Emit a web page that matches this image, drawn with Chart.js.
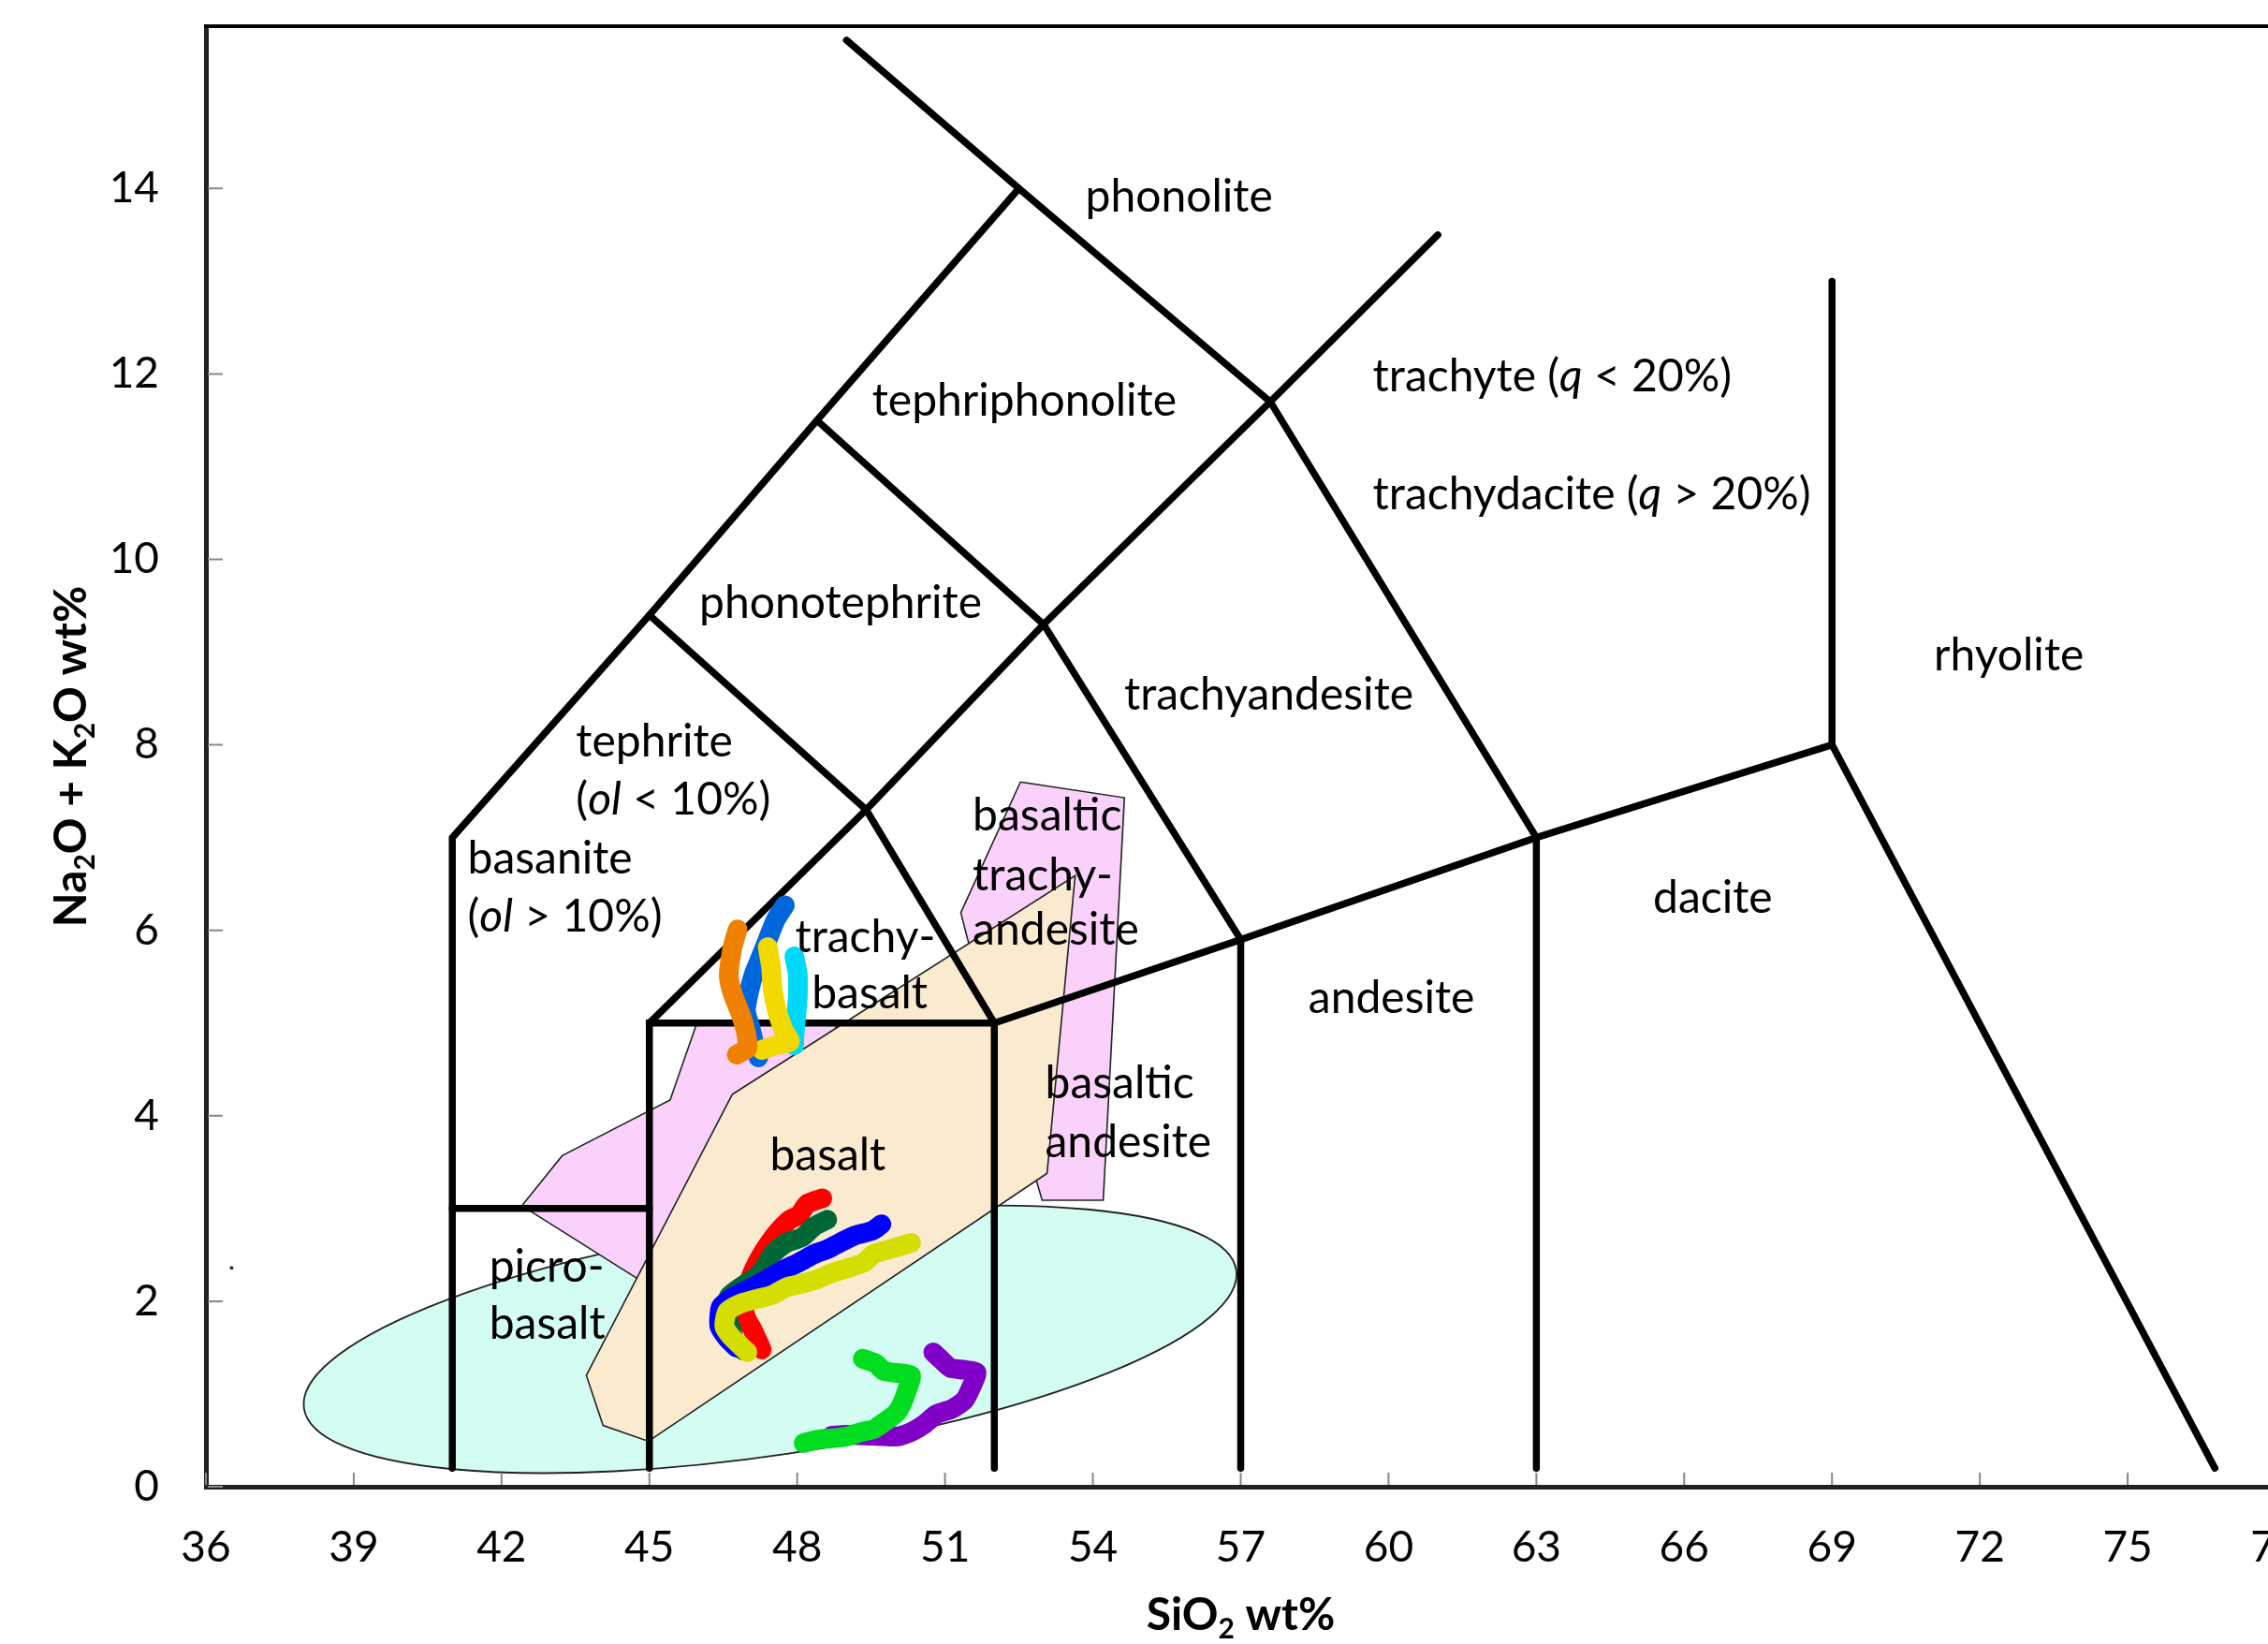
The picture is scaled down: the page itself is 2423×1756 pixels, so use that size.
<!DOCTYPE html>
<html>
<head>
<meta charset="utf-8">
<script src="https://cdn.jsdelivr.net/npm/chart.js@4.4.1/dist/chart.umd.min.js"></script>
<style>
  html, body { margin: 0; padding: 0; background: #fff; overflow: hidden; }
  #wrap { width: 2480px; height: 1756px; }
</style>
</head>
<body>
<div id="wrap"><canvas id="tas" width="2480" height="1756"></canvas></div>
<script>
const xTicks = [36, 39, 42, 45, 48, 51, 54, 57, 60, 63, 66, 69, 72, 75, 78];
const yTicks = [0, 2, 4, 6, 8, 10, 12, 14];

// TAS field boundaries [SiO2, Na2O+K2O]
const lineA = [[41, 0.2], [41, 7], [45, 9.4], [48.4, 11.5], [52.5, 14]];
const lineB = [[49, 15.6], [52.5, 14], [57.6, 11.7], [63, 7], [63, 0.2]];
const lineC = [[41, 3], [45, 3]];
const lineD = [[45, 0.2], [45, 5], [52, 5], [52, 0.2]];
const lineE = [[45, 5], [49.4, 7.3], [53, 9.3], [57.6, 11.7], [61, 13.5]];
const lineF = [[45, 9.4], [49.4, 7.3], [52, 5], [57, 5.9], [63, 7], [69, 8], [76.77, 0.2]];
const lineG = [[48.4, 11.5], [53, 9.3], [57, 5.9], [57, 0.2]];
const lineH = [[69, 8], [69, 13]];

// shaded fields
const pinkLeft = [[42.41, 3.03], [43.23, 3.57], [45.42, 4.17], [45.95, 4.98], [48.8, 4.98], [47.5, 3.0], [44.74, 2.25]];
const pinkRight = [[52.53, 7.60], [54.64, 7.43], [54.21, 3.09], [52.97, 3.09], [52.85, 3.31], [51.45, 5.92], [51.32, 6.19]];
const beigeField = [[46.68, 4.23], [53.64, 6.59], [53.07, 3.38], [44.98, 0.49], [44.06, 0.66], [43.72, 1.20]];
const ellipseCenter = [47.45, 1.59];
const ellipseAxisU = [9.46, 0.745];
const ellipseAxisV = [0.345, -1.236];

// sample traces
const orangeTrace = [[46.79, 6.01], [46.68, 5.80], [46.61, 5.50], [46.70, 5.30], [46.85, 5.10], [46.96, 4.90], [46.99, 4.73], [46.77, 4.66]];
const azureTrace = [[47.75, 6.27], [47.56, 6.11], [47.40, 5.90], [47.25, 5.70], [47.12, 5.53], [47.02, 5.33], [46.96, 5.13], [47.05, 4.95], [47.12, 4.80], [47.21, 4.63]];
const yellowTrace = [[47.40, 5.82], [47.47, 5.60], [47.50, 5.37], [47.59, 5.13], [47.72, 4.93], [47.85, 4.80], [47.56, 4.76], [47.28, 4.71]];
const cyanTrace = [[47.94, 5.72], [48.01, 5.53], [48.01, 5.27], [47.97, 5.03], [47.94, 4.83], [47.94, 4.76]];
const redTrace = [[48.51, 3.11], [48.20, 3.05], [48.04, 2.93], [47.85, 2.88], [47.59, 2.74], [47.37, 2.58], [47.21, 2.44], [47.06, 2.27], [46.95, 2.08], [46.92, 1.92], [46.98, 1.80], [47.09, 1.70], [47.28, 1.48]];
const darkGreenTrace = [[48.61, 2.88], [48.35, 2.81], [48.10, 2.69], [47.78, 2.63], [47.50, 2.51], [47.34, 2.37], [47.18, 2.27], [46.90, 2.17], [46.61, 2.05], [46.58, 1.88], [46.64, 1.73], [46.77, 1.53], [46.90, 1.47]];
const blueTrace = [[49.71, 2.83], [49.52, 2.76], [49.17, 2.71], [48.86, 2.63], [48.61, 2.56], [48.35, 2.51], [48.04, 2.42], [47.72, 2.34], [47.40, 2.24], [47.09, 2.15], [46.71, 2.05], [46.45, 1.94], [46.42, 1.73], [46.58, 1.60], [46.77, 1.50]];
const limeTrace = [[50.31, 2.63], [49.87, 2.56], [49.55, 2.51], [49.36, 2.42], [49.05, 2.36], [48.73, 2.31], [48.42, 2.24], [48.10, 2.19], [47.78, 2.15], [47.50, 2.07], [47.15, 2.02], [46.83, 1.97], [46.58, 1.89], [46.52, 1.73], [46.64, 1.63], [46.83, 1.53], [46.99, 1.45]];
const greenTrace = [[49.33, 1.38], [49.59, 1.33], [49.75, 1.25], [49.97, 1.23], [50.31, 1.20], [50.22, 1.03], [50.12, 0.89], [50.00, 0.79], [49.75, 0.69], [49.55, 0.62], [49.30, 0.59], [48.99, 0.54], [48.67, 0.52], [48.42, 0.51], [48.13, 0.47]];
const purpleTrace = [[50.76, 1.45], [50.92, 1.37], [51.11, 1.28], [51.39, 1.26], [51.64, 1.23], [51.52, 1.06], [51.39, 0.93], [51.14, 0.84], [50.82, 0.78], [50.57, 0.67], [50.31, 0.59], [50.00, 0.54], [49.50, 0.55], [49.00, 0.56], [48.70, 0.55]];
const strayPoint = [[36.52, 2.36]];

// field names: text (*italic*), SiO2, total alkali, alignment
const fieldLabels = [
  ['phonolite', 55.75, 13.91, 'center'],
  ['tephriphonolite', 52.61, 11.71, 'center'],
  ['trachyte (*q* < 20%)', 59.68, 11.97, 'left'],
  ['trachydacite (*q* > 20%)', 59.68, 10.70, 'left'],
  ['phonotephrite', 48.88, 9.53, 'center'],
  ['rhyolite', 72.59, 8.96, 'center'],
  ['trachyandesite', 57.57, 8.54, 'center'],
  ['tephrite', 43.51, 8.03, 'left'],
  ['(*ol* < 10%)', 43.51, 7.41, 'left'],
  ['basanite', 41.31, 6.77, 'left'],
  ['(*ol* > 10%)', 41.31, 6.14, 'left'],
  ['basaltic', 51.56, 7.23, 'left'],
  ['trachy-', 51.56, 6.59, 'left'],
  ['andesite', 51.56, 6.00, 'left'],
  ['dacite', 66.58, 6.35, 'center'],
  ['trachy-', 49.38, 5.92, 'center'],
  ['basalt', 49.47, 5.32, 'center'],
  ['andesite', 60.06, 5.27, 'center'],
  ['basaltic', 53.03, 4.35, 'left'],
  ['andesite', 53.03, 3.71, 'left'],
  ['basalt', 48.62, 3.57, 'center'],
  ['picro-', 41.75, 2.37, 'left'],
  ['basalt', 41.75, 1.75, 'left']
];

const xTitle = 'SiO~2~ wt%';
const yTitle = 'Na~2~O + K~2~O wt%';

const toXY = pts => pts.map(([x, y]) => ({ x, y }));

function boundary(pts) {
  return { data: toXY(pts), showLine: true, borderColor: '#000', borderWidth: 7.5,
    borderCapStyle: 'round', borderJoinStyle: 'miter', pointRadius: 0, tension: 0, fill: false, order: 1 };
}
function field(pts, color, order) {
  return { data: toXY(pts.concat([pts[0]])), showLine: true, fill: 'shape', backgroundColor: color,
    borderColor: '#222', borderWidth: 1.6, pointRadius: 0, tension: 0, order };
}
function trace(pts, color) {
  return { data: toXY(pts), showLine: true, borderColor: color, borderWidth: 21,
    borderCapStyle: 'round', borderJoinStyle: 'round', pointRadius: 0, tension: 0.2, fill: false, order: 0 };
}

function segments(str) {
  return str.split(/(\*[^*]+\*|~[^~]+~)/).filter(s => s).map(s => {
    if (s[0] === '*') return { t: s.slice(1, -1), k: 'i' };
    if (s[0] === '~') return { t: s.slice(1, -1), k: 'sub' };
    return { t: s, k: 'n' };
  });
}
function drawRich(ctx, str, x, y, size, weight, align) {
  const segs = segments(str);
  const fontFor = k => k === 'i' ? `italic ${weight} ${size}px Lato`
    : k === 'sub' ? `${weight} ${Math.round(size * 0.62)}px Lato` : `${weight} ${size}px Lato`;
  let total = 0;
  segs.forEach(s => { ctx.font = fontFor(s.k); s.w = ctx.measureText(s.t).width; total += s.w; });
  let cx = align === 'left' ? x : x - total / 2;
  ctx.textAlign = 'left';
  ctx.textBaseline = 'middle';
  ctx.fillStyle = '#000';
  segs.forEach(s => {
    ctx.font = fontFor(s.k);
    ctx.fillText(s.t, cx, s.k === 'sub' ? y + size * 0.3 : y);
    cx += s.w;
  });
}

const tasPlugin = {
  id: 'tas',
  beforeDatasetsDraw(chart) {
    const { ctx, scales: { x, y } } = chart;
    const c = [x.getPixelForValue(ellipseCenter[0]), y.getPixelForValue(ellipseCenter[1])];
    const u = [x.getPixelForValue(ellipseCenter[0] + ellipseAxisU[0]) - c[0], y.getPixelForValue(ellipseCenter[1] + ellipseAxisU[1]) - c[1]];
    const v = [x.getPixelForValue(ellipseCenter[0] + ellipseAxisV[0]) - c[0], y.getPixelForValue(ellipseCenter[1] + ellipseAxisV[1]) - c[1]];
    ctx.save();
    ctx.beginPath();
    ctx.save();
    ctx.transform(u[0], u[1], v[0], v[1], c[0], c[1]);
    ctx.arc(0, 0, 1, 0, Math.PI * 2);
    ctx.restore();
    ctx.fillStyle = '#d3fcf2';
    ctx.fill();
    ctx.lineWidth = 1.8;
    ctx.strokeStyle = '#222';
    ctx.stroke();
    ctx.restore();
  },
  afterDatasetsDraw(chart) {
    const { ctx, scales: { x, y } } = chart;
    ctx.save();
    fieldLabels.forEach(([txt, sx, sy, align]) => {
      drawRich(ctx, txt, x.getPixelForValue(sx), y.getPixelForValue(sy), 48, 'normal', align);
    });
    ctx.restore();
  },
  afterDraw(chart) {
    const { ctx, chartArea: a, scales: { x, y } } = chart;
    ctx.save();
    // frame top
    ctx.strokeStyle = '#000';
    ctx.lineWidth = 4;
    ctx.beginPath();
    ctx.moveTo(a.left - 2, a.top);
    ctx.lineTo(chart.width, a.top);
    ctx.stroke();
    // inner tick marks
    ctx.strokeStyle = '#888';
    ctx.lineWidth = 2;
    ctx.beginPath();
    xTicks.forEach(t => { const px = x.getPixelForValue(t); ctx.moveTo(px, a.bottom - 2); ctx.lineTo(px, a.bottom - 15); });
    yTicks.forEach(t => { const py = y.getPixelForValue(t); ctx.moveTo(a.left + 2, py); ctx.lineTo(a.left + 18, py); });
    ctx.stroke();
    // axis titles
    drawRich(ctx, xTitle, (a.left + a.right) / 2, 1726, 48, 'bold', 'center');
    ctx.translate(77, (a.top + a.bottom) / 2);
    ctx.rotate(-Math.PI / 2);
    drawRich(ctx, yTitle, 0, 0, 48, 'bold', 'center');
    ctx.restore();
  }
};

const datasets = [
  trace(orangeTrace, '#f08000'),
  trace(yellowTrace, '#f2da00'),
  trace(cyanTrace, '#00d8fa'),
  trace(azureTrace, '#0066dd'),
  trace(limeTrace, '#d4de00'),
  trace(blueTrace, '#0000ff'),
  trace(darkGreenTrace, '#006837'),
  trace(redTrace, '#ff0000'),
  trace(greenTrace, '#00dd1e'),
  trace(purpleTrace, '#8000c8'),
  boundary(lineA), boundary(lineB), boundary(lineC), boundary(lineD),
  boundary(lineE), boundary(lineF), boundary(lineG), boundary(lineH),
  { data: toXY(strayPoint), pointRadius: 2, pointBackgroundColor: '#333', pointBorderWidth: 0, order: 1 },
  field(beigeField, '#faebd0', 2),
  field(pinkLeft, '#f9d1fb', 3),
  field(pinkRight, '#f9d1fb', 3)
];

new Chart(document.getElementById('tas'), {
  type: 'scatter',
  data: { datasets },
  options: {
    responsive: false,
    devicePixelRatio: 1,
    animation: false,
    events: [],
    layout: { padding: { left: 0, top: 28, right: 49, bottom: 0 } },
    plugins: { legend: { display: false }, tooltip: { enabled: false } },
    scales: {
      x: {
        type: 'linear', min: 36, max: 78,
        afterBuildTicks: s => { s.ticks = xTicks.map(v => ({ value: v })); },
        afterFit: s => { s.height = 168; s.paddingLeft = 0; s.paddingRight = 0; },
        grid: { display: false, drawTicks: false },
        border: { display: true, color: '#222', width: 5 },
        ticks: { autoSkip: false, maxRotation: 0, padding: 42, color: '#000',
          font: { family: 'Lato', size: 46, lineHeight: 1 } }
      },
      y: {
        type: 'linear', min: 0, max: 15.75,
        afterBuildTicks: s => { s.ticks = yTicks.map(v => ({ value: v })); },
        afterFit: s => { s.width = 220; s.paddingTop = 0; s.paddingBottom = 0; },
        grid: { display: false, drawTicks: false },
        border: { display: true, color: '#222', width: 5 },
        ticks: { padding: 50, color: '#000', font: { family: 'Lato', size: 46, lineHeight: 1 } }
      }
    }
  },
  plugins: [tasPlugin]
});
</script>
</body>
</html>
